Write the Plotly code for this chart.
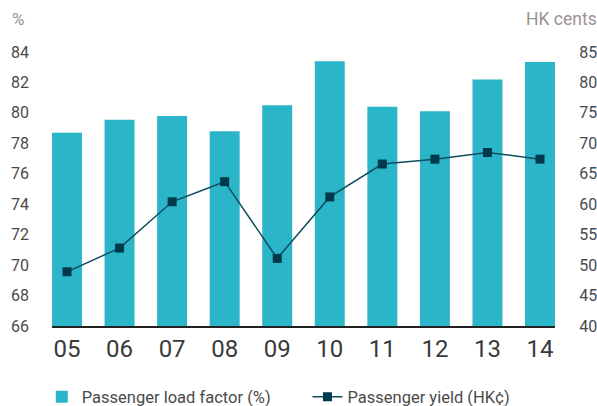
import plotly.graph_objects as go

years = ["05", "06", "07", "08", "09", "10", "11", "12", "13", "14"]
load_factor = [78.7, 79.55, 79.8, 78.8, 80.5, 83.4, 80.4, 80.1, 82.2, 83.35]
passenger_yield = [48.9, 52.8, 60.4, 63.7, 51.1, 61.2, 66.6, 67.4, 68.5, 67.4]

left_ticks = [66, 68, 70, 72, 74, 76, 78, 80, 82, 84]
right_ticks = [40, 45, 50, 55, 60, 65, 70, 75, 80, 85]

BAR = "#2bb5c9"
LINE = "#0f4d5f"
MARK = "#00394b"
FONT = "Roboto"

fig = go.Figure()
fig.add_trace(go.Bar(
    x=years, y=load_factor, name="Passenger load factor (%)",
    marker=dict(color=BAR, line=dict(width=0)), yaxis="y", legend="legend",
))
fig.add_trace(go.Scatter(
    x=years, y=passenger_yield, name="Passenger yield (HK¢)",
    mode="lines+markers", yaxis="y2", legend="legend2",
    line=dict(color=LINE, width=1.5),
    marker=dict(symbol="square", size=9, color=MARK),
))

legend_common = dict(
    orientation="h", xanchor="left", yanchor="middle",
    xref="container", yref="container", y=0.022,
    font=dict(size=16.5, color="#4a4a4a"),
    itemwidth=30, bgcolor="rgba(0,0,0,0)",
)

fig.update_layout(
    width=597, height=406,
    margin=dict(l=52, r=42, t=52, b=80, autoexpand=False),
    plot_bgcolor="white", paper_bgcolor="white",
    bargap=0.43,
    font=dict(family=FONT, color="#4a4a4a"),
    xaxis=dict(
        type="category", range=[-0.2855, 9.2855],
        showgrid=False, zeroline=False,
        showline=True, linecolor="#222222", linewidth=1.5,
        ticks="", tickfont=dict(size=24, color="#3a3a3a"),
        ticklabelstandoff=0,
    ),
    yaxis=dict(
        range=[66, 84], tickvals=left_ticks,
        showgrid=False, zeroline=False, showline=False,
        tickfont=dict(size=16, color="#4a4a4a"),
        ticklabelstandoff=22,
    ),
    yaxis2=dict(
        range=[40, 85], tickvals=right_ticks, overlaying="y", side="right",
        showgrid=False, zeroline=False, showline=False,
        ticks="outside", ticklen=20, tickcolor="rgba(0,0,0,0)",
        tickfont=dict(size=16, color="#4a4a4a"),
    ),
    showlegend=True,
    legend=dict(legend_common, x=0.07),
    legend2=dict(legend_common, x=0.515),
    annotations=[
        dict(text="%", xref="paper", yref="paper", x=-0.083, y=1.122,
             xanchor="left", yanchor="middle", showarrow=False,
             font=dict(size=17, color="#9b9393")),
        dict(text="HK cents", xref="paper", yref="paper", x=0.938, y=1.122,
             xanchor="left", yanchor="middle", showarrow=False,
             font=dict(size=17.5, color="#9b9393")),
    ],
)

fig.write_html("out.html")
